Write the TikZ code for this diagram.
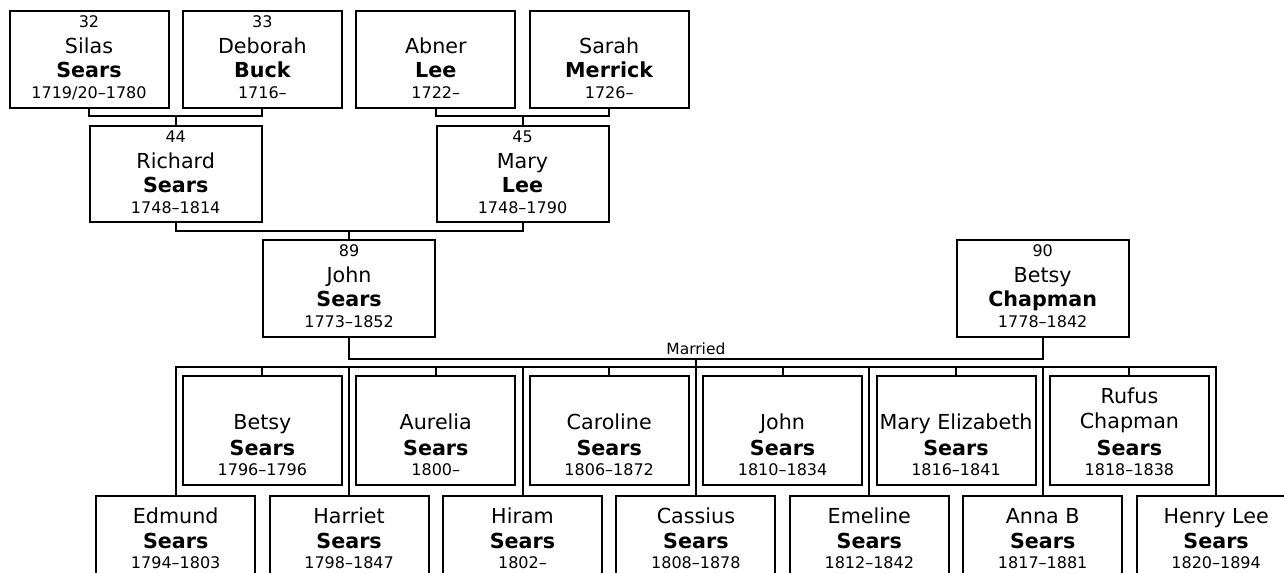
\documentclass[tikz,border=0pt]{standalone}
\usepackage{fontspec}
\setmainfont{DejaVu Sans}
\usetikzlibrary{calc}
\newcommand{\namef}{\fontsize{15.5pt}{18pt}\selectfont}
\newcommand{\smallf}{\fontsize{12pt}{14pt}\selectfont}
\newcommand{\marf}{\fontsize{11.6pt}{14pt}\selectfont}
\tikzset{
  x=0.75pt, y=-0.75pt,
  pbox/.style={draw, line width=1.5pt, rectangle, inner sep=0pt, outer sep=0pt, anchor=north, fill=white},
  ptxt/.style={anchor=base, inner sep=0pt, font=\namef},
  pbold/.style={anchor=base, inner sep=0pt, font=\namef\bfseries},
  psm/.style={anchor=base, inner sep=0pt, font=\smallf},
  link/.style={line width=1.5pt, line cap=rect, line join=miter},
}
% box: name, k, top, width, height
\newcommand{\pbx}[5]{\node[pbox, minimum width=#4*0.75pt, minimum height=#5*0.75pt] (#1) at ({89+86.7*#2},#3) {};}
% text line: box, suffix, offset, style, text
\newcommand{\tl}[5]{\node[#4] (#1-#2) at ($(#1.north)+(0,#3)$) {#5};}
% numbered ancestor
\newcommand{\anc}[9]{%
  \pbx{#1}{#2}{#3}{#4}{#5}%
  \tl{#1}{n}{17}{psm}{#6}%
  \tl{#1}{f}{42.5}{ptxt}{#7}%
  \tl{#1}{l}{67}{pbold}{#8}%
  \tl{#1}{d}{88}{psm}{#9}}
\begin{document}
\begin{tikzpicture}
\useasboundingbox (0,0) rectangle (1284,573);
\clip (0,0) rectangle (1284,573);
\fill[white] (0,0) rectangle (1284,573);

% generation 1
\anc{silas}{0}{11}{159}{97}{32}{Silas}{Sears}{1719/20–1780}
\anc{deborah}{2}{11}{159}{97}{33}{Deborah}{Buck}{1716–}
\pbx{abner}{4}{11}{159}{97}
\tl{abner}{f}{42.5}{ptxt}{Abner}
\tl{abner}{l}{67}{pbold}{Lee}
\tl{abner}{d}{88}{psm}{1722–}
\pbx{sarah}{6}{11}{159}{97}
\tl{sarah}{f}{42.5}{ptxt}{Sarah}
\tl{sarah}{l}{67}{pbold}{Merrick}
\tl{sarah}{d}{88}{psm}{1726–}

% generation 2
\anc{richard}{1}{126}{172}{96}{44}{Richard}{Sears}{1748–1814}
\anc{mary}{5}{126}{172}{96}{45}{Mary}{Lee}{1748–1790}

% generation 3
\anc{john}{3}{240}{172}{97}{89}{John}{Sears}{1773–1852}
\anc{betsyc}{11}{240}{172}{97}{90}{Betsy}{Chapman}{1778–1842}

% children, upper row
\pbx{betsy}{2}{376}{159}{109}
\tl{betsy}{f}{53}{ptxt}{Betsy}
\tl{betsy}{l}{79}{pbold}{Sears}
\tl{betsy}{d}{99}{psm}{1796–1796}
\pbx{aurelia}{4}{376}{159}{109}
\tl{aurelia}{f}{53}{ptxt}{Aurelia}
\tl{aurelia}{l}{79}{pbold}{Sears}
\tl{aurelia}{d}{99}{psm}{1800–}
\pbx{caroline}{6}{376}{159}{109}
\tl{caroline}{f}{53}{ptxt}{Caroline}
\tl{caroline}{l}{79}{pbold}{Sears}
\tl{caroline}{d}{99}{psm}{1806–1872}
\pbx{johnj}{8}{376}{159}{109}
\tl{johnj}{f}{53}{ptxt}{John}
\tl{johnj}{l}{79}{pbold}{Sears}
\tl{johnj}{d}{99}{psm}{1810–1834}
\pbx{marye}{10}{376}{159}{109}
\tl{marye}{f}{53}{ptxt}{Mary Elizabeth}
\tl{marye}{l}{79}{pbold}{Sears}
\tl{marye}{d}{99}{psm}{1816–1841}
\pbx{rufus}{12}{376}{159}{109}
\tl{rufus}{a}{27.5}{ptxt}{Rufus}
\tl{rufus}{f}{52.5}{ptxt}{Chapman}
\tl{rufus}{l}{79}{pbold}{Sears}
\tl{rufus}{d}{99}{psm}{1818–1838}

% children, lower row
\pbx{edmund}{1}{496}{159}{100}
\tl{edmund}{f}{27}{ptxt}{Edmund}
\tl{edmund}{l}{52}{pbold}{Sears}
\tl{edmund}{d}{72}{psm}{1794–1803}
\pbx{harriet}{3}{496}{159}{100}
\tl{harriet}{f}{27}{ptxt}{Harriet}
\tl{harriet}{l}{52}{pbold}{Sears}
\tl{harriet}{d}{72}{psm}{1798–1847}
\pbx{hiram}{5}{496}{159}{100}
\tl{hiram}{f}{27}{ptxt}{Hiram}
\tl{hiram}{l}{52}{pbold}{Sears}
\tl{hiram}{d}{72}{psm}{1802–}
\pbx{cassius}{7}{496}{159}{100}
\tl{cassius}{f}{27}{ptxt}{Cassius}
\tl{cassius}{l}{52}{pbold}{Sears}
\tl{cassius}{d}{72}{psm}{1808–1878}
\pbx{emeline}{9}{496}{159}{100}
\tl{emeline}{f}{27}{ptxt}{Emeline}
\tl{emeline}{l}{52}{pbold}{Sears}
\tl{emeline}{d}{72}{psm}{1812–1842}
\pbx{anna}{11}{496}{159}{100}
\tl{anna}{f}{27}{ptxt}{Anna B}
\tl{anna}{l}{52}{pbold}{Sears}
\tl{anna}{d}{72}{psm}{1817–1881}
\pbx{henry}{13}{496}{159}{100}
\tl{henry}{f}{27}{ptxt}{Henry Lee}
\tl{henry}{l}{52}{pbold}{Sears}
\tl{henry}{d}{72}{psm}{1820–1894}

% junction points
\coordinate (j1) at ({89+86.7*1},116);
\coordinate (j1b) at ({89+86.7*5},116);
\coordinate (j2) at ({89+86.7*3},231);
\coordinate (j3) at ({89+86.7*7},358.5);
\coordinate (bar) at ({89+86.7*7},367);

% connectors
\draw[link] (silas.south) |- (j1) -| (deborah.south);
\draw[link] (j1) -- (richard.north);
\draw[link] (abner.south) |- (j1b) -| (sarah.south);
\draw[link] (j1b) -- (mary.north);
\draw[link] (richard.south) |- (j2) -| (mary.south);
\draw[link] (j2) -- (john.north);
\draw[link] (john.south) |- (j3) -| (betsyc.south);
\node[anchor=base, inner sep=0pt, font=\marf] (married) at ($(j3)+(0,-4)$) {Married};
\draw[link] (j3) -- (bar);
\draw[link] (edmund.north) |- (bar) -| (henry.north);
\foreach \c in {betsy,harriet,aurelia,hiram,caroline,cassius,johnj,emeline,marye,anna,rufus}
  \draw[link] (\c.north |- bar) -- (\c.north);
\end{tikzpicture}
\end{document}
